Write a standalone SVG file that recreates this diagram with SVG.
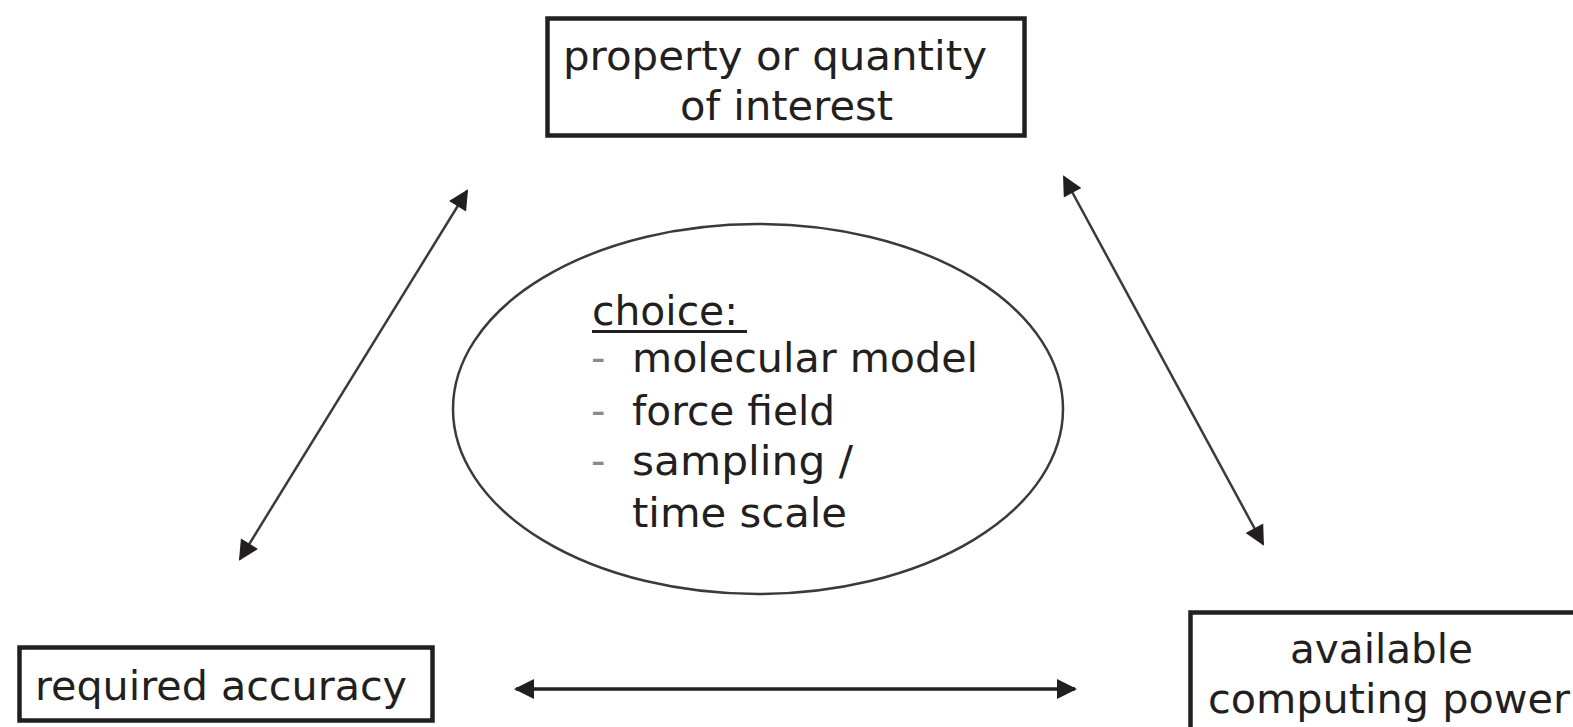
<svg xmlns="http://www.w3.org/2000/svg" width="1573" height="727" viewBox="0 0 1573 727">
  <style>
    .box { fill: #ffffff; stroke: #231f20; stroke-width: 4.5; }
    .lbl { font-family: "DejaVu Sans", Verdana, sans-serif; font-size: 40px; fill: #231f20; }
    .dash { font-family: "DejaVu Sans", Verdana, sans-serif; font-size: 40px; fill: #8a8a8a; }
    .diag { stroke: #3a3a3a; stroke-width: 2.5; fill: none; }
    .horiz { stroke: #231f20; stroke-width: 3.5; fill: none; }
  </style>
  <defs>
    <!-- arrowhead for the slanted double arrows -->
    <marker id="headD" viewBox="0 0 10 10" refX="9" refY="5" markerWidth="22" markerHeight="20" markerUnits="userSpaceOnUse" orient="auto-start-reverse">
      <path d="M0,0 L10,5 L0,10 Z" fill="#231f20"/>
    </marker>
    <!-- arrowhead for the horizontal double arrow -->
    <marker id="headH" viewBox="0 0 10 10" refX="9" refY="5" markerWidth="24" markerHeight="20" markerUnits="userSpaceOnUse" orient="auto-start-reverse">
      <path d="M0,0 L10,5 L0,10 Z" fill="#231f20"/>
    </marker>
  </defs>
  <rect width="1573" height="727" fill="#ffffff"/>

  <g id="connectors">
    <line class="diag" x1="240" y1="559" x2="467" y2="191" marker-start="url(#headD)" marker-end="url(#headD)"/>
    <line class="diag" x1="1064" y1="177" x2="1263" y2="544" marker-start="url(#headD)" marker-end="url(#headD)"/>
    <line class="horiz" x1="516" y1="689" x2="1075" y2="689" marker-start="url(#headH)" marker-end="url(#headH)"/>
  </g>

  <g id="property">
    <rect class="box" x="547.5" y="18.5" width="477" height="117"/>
    <text class="lbl" x="563" y="70" textLength="424" lengthAdjust="spacingAndGlyphs">property or quantity</text>
    <text class="lbl" x="680" y="120" textLength="213" lengthAdjust="spacingAndGlyphs">of interest</text>
  </g>

  <g id="accuracy">
    <rect class="box" x="19.5" y="647.5" width="413" height="73"/>
    <text class="lbl" x="35" y="700" textLength="372" lengthAdjust="spacingAndGlyphs">required accuracy</text>
  </g>

  <g id="computing">
    <rect class="box" x="1190.5" y="612.5" width="400" height="140"/>
    <text class="lbl" x="1290" y="663" textLength="183" lengthAdjust="spacingAndGlyphs">available</text>
    <text class="lbl" x="1208" y="713" textLength="362" lengthAdjust="spacingAndGlyphs">computing power</text>
  </g>

  <g id="choice">
    <ellipse cx="758" cy="409" rx="305" ry="185" fill="none" stroke="#3a3a3a" stroke-width="2.5"/>
    <text class="lbl" x="592" y="325" textLength="146" lengthAdjust="spacingAndGlyphs">choice:</text>
    <rect x="592" y="330" width="155" height="3" fill="#231f20"/>
    <text class="dash" x="591" y="372">-</text>
    <text class="lbl" x="632" y="372" textLength="346" lengthAdjust="spacingAndGlyphs">molecular model</text>
    <text class="dash" x="591" y="425">-</text>
    <text class="lbl" x="632" y="425" textLength="203" lengthAdjust="spacingAndGlyphs">force field</text>
    <text class="dash" x="591" y="475">-</text>
    <text class="lbl" x="632" y="475" textLength="221" lengthAdjust="spacingAndGlyphs">sampling /</text>
    <text class="lbl" x="632" y="527" textLength="215" lengthAdjust="spacingAndGlyphs">time scale</text>
  </g>
</svg>
